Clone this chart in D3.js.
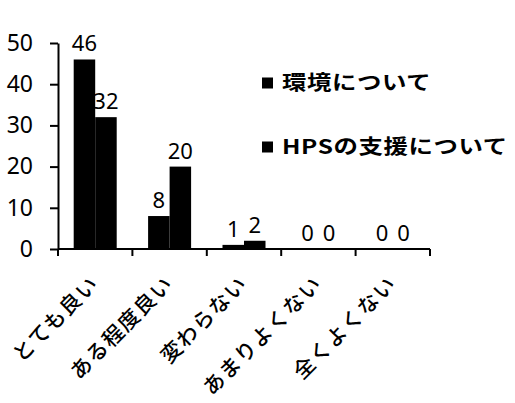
<!DOCTYPE html>
<html><head><meta charset="utf-8">
<script src="https://cdn.jsdelivr.net/npm/d3@7"></script>
<style>
html,body{margin:0;padding:0;background:#fff;}
svg{display:block;}
</style>
</head><body>
<script>
const categories = ["とても良い","ある程度良い","変わらない","あまりよくない","全くよくない"];
const series = ["環境について","HPSの支援について"];
const envValues = [46, 8, 1, 0, 0];
const hpsValues = [32, 20, 2, 0, 0];
const yTicks = [0,10,20,30,40,50];

const W = 515, H = 403;
const svg = d3.select("body").append("svg").attr("width", W).attr("height", H);
svg.append("rect").attr("width", W).attr("height", H).attr("fill", "#fff");

const numFont = "'Noto Sans', 'DejaVu Sans', sans-serif";
const jpFont = "'Noto Sans CJK JP', sans-serif";

const y = d3.scaleLinear().domain([0,50]).range([249, 43]);
const x0 = d3.scaleBand().domain(categories).range([58, 430]).padding(0);
const x1 = d3.scaleBand().domain(series).range([0, x0.bandwidth()]).paddingInner(0).paddingOuter(0.73);

const data = categories.map((c,i)=>({cat:c, vals:[{s:series[0], v:envValues[i]},{s:series[1], v:hpsValues[i]}]}));

// bars
const g = svg.append("g");
data.forEach(d=>{
  d.vals.forEach(b=>{
    g.append("rect")
      .attr("x", x0(d.cat)+x1(b.s))
      .attr("y", y(b.v))
      .attr("width", x1.bandwidth())
      .attr("height", y(0)-y(b.v))
      .attr("fill", "#000");
    g.append("text")
      .attr("x", x0(d.cat)+x1(b.s)+x1.bandwidth()/2)
      .attr("y", y(b.v)-8)
      .attr("text-anchor","middle")
      .attr("font-family", numFont)
      .attr("font-size", 22)
      .attr("fill","#000")
      .text(b.v);
  });
});

// y axis
const yAxis = d3.axisLeft(y).tickValues(yTicks).tickSize(8).tickSizeOuter(0).tickPadding(17);
const ya = svg.append("g").attr("transform","translate(58,0)").call(yAxis);
ya.select(".domain").attr("stroke","#000").attr("stroke-width",2);
ya.selectAll(".tick line").attr("stroke","#000").attr("stroke-width",2);
ya.selectAll(".tick text").attr("font-family", numFont).attr("font-size", 23).attr("fill","#000");

// x axis
const xa = svg.append("g").attr("transform", `translate(0,${y(0)})`);
xa.append("line").attr("x1",58).attr("x2",430).attr("y1",0).attr("y2",0).attr("stroke","#000").attr("stroke-width",2);
const bounds = categories.map(c=>x0(c)).concat([x0(categories[categories.length-1])+x0.bandwidth()]);
xa.selectAll("line.tk").data(bounds).enter().append("line").attr("class","tk")
  .attr("x1",d=>d).attr("x2",d=>d).attr("y1",0).attr("y2",7).attr("stroke","#000").attr("stroke-width",2);
xa.selectAll("text.lbl").data(categories).enter().append("text").attr("class","lbl")
  .attr("transform", d=>`translate(${x0(d)+x0.bandwidth()/2+5},${36}) rotate(-45)`)
  .attr("text-anchor","end")
  .attr("font-family", jpFont)
  .attr("font-size", 21)
  .attr("font-weight", 500)
  .attr("letter-spacing", "1.5px")
  .attr("fill","#000")
  .text(d=>d);

// legend
const legend = svg.append("g");
series.forEach((s,i)=>{
  const ly = 83 + i*64;
  legend.append("rect").attr("x",262).attr("y",ly-5.5).attr("width",11).attr("height",11).attr("fill","#000");
  legend.append("text").attr("transform",`translate(282,${ly+7}) scale(1.22,1)`)
    .attr("font-family", jpFont).attr("font-size",20).attr("font-weight",700)
    .attr("letter-spacing","0.5px").attr("fill","#000").text(s);
});
</script>
</body></html>
